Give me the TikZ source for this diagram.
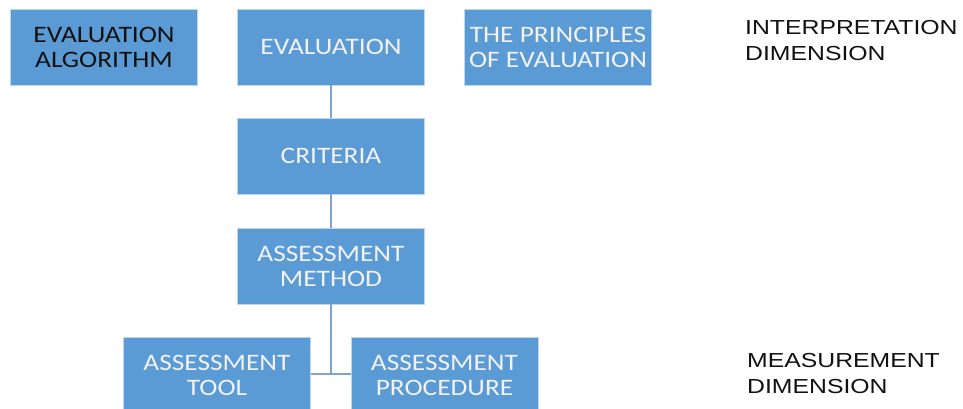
\documentclass[tikz,border=0pt]{standalone}
\usepackage{fontspec}
\newfontfamily\boxfont[FakeStretch=1.16]{Carlito}
\newfontfamily\labelfont[FakeStretch=1.22]{Liberation Sans}
\definecolor{boxfill}{HTML}{5B9BD5}
\definecolor{boxedge}{HTML}{BDD7EE}
\definecolor{linkcol}{HTML}{7FA3CC}
\definecolor{boxtext}{HTML}{F2F2F2}
\definecolor{darktext}{HTML}{111111}
\tikzset{
  block/.style={rectangle, fill=boxfill, draw=boxedge, line width=0.8pt,
    minimum width=187pt, minimum height=76pt, inner sep=0pt, align=center,
    text=boxtext, font=\boxfont\fontsize{23.6}{25}\selectfont},
  darkblock/.style={block, text=darktext},
  link/.style={draw=linkcol, line width=2pt},
  dimlabel/.style={anchor=north west, inner sep=0pt, align=left, text=darktext,
    font=\labelfont\fontsize{20.3}{26}\selectfont}
}
\begin{document}
\begin{tikzpicture}[x=1pt, y=-1pt]
  \useasboundingbox (0,0) rectangle (963,408);
  \clip (0,0) rectangle (963,408);

  % top row
  \node[darkblock] (alg)  at (104,47)   {EVALUATION\\ALGORITHM};
  \node[block]     (eval) at (331,47)   {EVALUATION};
  \node[block]     (prin) at (558,47)   {THE PRINCIPLES\\OF EVALUATION};

  % central chain
  \node[block] (crit)   at (331,156)  {CRITERIA};
  \node[block] (method) at (331,266)  {ASSESSMENT\\METHOD};

  % bottom row
  \node[block] (tool) at (217,375)   {ASSESSMENT\\TOOL};
  \node[block] (proc) at (444.5,375) {ASSESSMENT\\PROCEDURE};

  % dimension labels
  \node[dimlabel] (interp)  at (745,20)  {INTERPRETATION\\DIMENSION};
  \node[dimlabel] (measure) at (747,353) {MEASUREMENT\\DIMENSION};

  % connectors
  \coordinate (fork) at (331,374);
  \draw[link] (eval.south) -- (crit.north);
  \draw[link] (crit.south) -- (method.north);
  \draw[link] (method.south) -- (fork);
  \draw[link] (tool.east |- fork) -- (proc.west |- fork);
\end{tikzpicture}
\end{document}
